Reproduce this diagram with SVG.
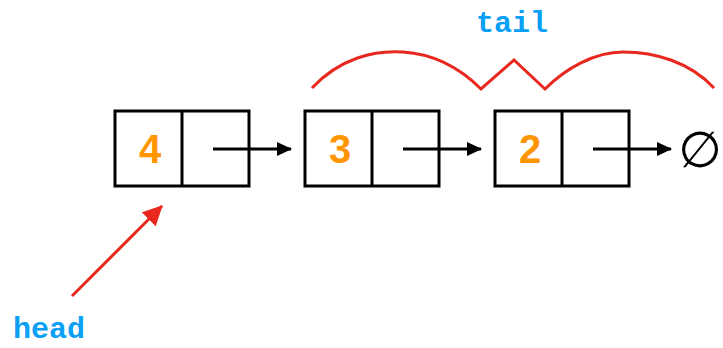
<svg xmlns="http://www.w3.org/2000/svg" width="723" height="348" viewBox="0 0 723 348">
  <style>
    .cell { fill: #ffffff; stroke: #000000; stroke-width: 3; }
    .num { font-family: "Liberation Sans", Arial, sans-serif; font-weight: bold; font-size: 40px; fill: #FF9500; text-anchor: middle; }
    .label { font-family: "Liberation Mono", "Courier New", monospace; font-weight: bold; font-size: 30px; fill: #0AA0F5; text-anchor: middle; }
    .link { stroke: #000000; stroke-width: 3; fill: none; marker-end: url(#blackHead); }
    .red { stroke: #E8281E; stroke-width: 3; fill: none; stroke-linejoin: miter; }
  </style>
  <defs>
    <marker id="blackHead" markerWidth="16" markerHeight="14" refX="14" refY="7" orient="auto" markerUnits="userSpaceOnUse">
      <path d="M0,0 L15,7 L0,14 Z" fill="#000000"/>
    </marker>
    <marker id="redHead" markerWidth="22" markerHeight="20" refX="19" refY="10" orient="auto" markerUnits="userSpaceOnUse">
      <path d="M0,0 L20,10 L0,20 Z" fill="#E8281E"/>
    </marker>
  </defs>

  <!-- list nodes -->
  <g id="node4">
    <rect class="cell" x="115" y="111" width="134" height="75"/>
    <line x1="182" y1="111" x2="182" y2="186" stroke="#000" stroke-width="3"/>
    <text class="num" x="150" y="163">4</text>
  </g>
  <g id="node3">
    <rect class="cell" x="305" y="111" width="134" height="75"/>
    <line x1="372" y1="111" x2="372" y2="186" stroke="#000" stroke-width="3"/>
    <text class="num" x="340" y="163">3</text>
  </g>
  <g id="node2">
    <rect class="cell" x="495" y="111" width="134" height="75"/>
    <line x1="562" y1="111" x2="562" y2="186" stroke="#000" stroke-width="3"/>
    <text class="num" x="530" y="163">2</text>
  </g>
  <g id="nil">
    <text x="700" y="167" font-family="DejaVu Sans, sans-serif" font-size="50" text-anchor="middle" fill="#000">∅</text>
  </g>

  <!-- next pointers -->
  <g id="connectors">
    <line class="link" x1="213" y1="149" x2="291" y2="149"/>
    <line class="link" x1="403" y1="149" x2="481" y2="149"/>
    <line class="link" x1="593" y1="149" x2="671" y2="149"/>
  </g>

  <!-- annotations -->
  <g id="tail">
    <path class="red" d="M312,88 C340,58 375,50 403,52 C435,54 460,68 481,89 L514,60 L545,89 C566,68 595,52 623,52 C655,52 690,62 714,88"/>
    <text class="label" x="512" y="32">tail</text>
  </g>
  <g id="head">
    <line class="red" x1="72" y1="296" x2="162" y2="206" marker-end="url(#redHead)"/>
    <text class="label" x="49" y="338">head</text>
  </g>
</svg>
